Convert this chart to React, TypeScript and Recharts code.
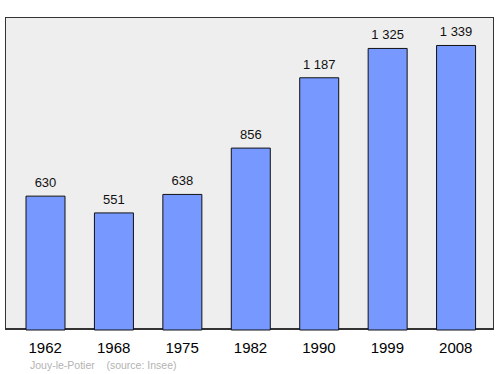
import React from "react";
import { BarChart, Bar, XAxis, YAxis, LabelList } from "recharts";

const years = ["1962", "1968", "1975", "1982", "1990", "1999", "2008"];
const population = [630, 551, 638, 856, 1187, 1325, 1339];
const caption = "Jouy-le-Potier    (source: Insee)";

const data = years.map((y, i) => ({ year: y, pop: population[i] }));

const fmt = (v: any) => String(v).replace(/\B(?=(\d{3})+(?!\d))/g, "\u00a0");

const FONT = "'Liberation Sans', Arial, sans-serif";

export default function App() {
  return (
    <div style={{ position: "absolute", left: 0, top: 0, width: 500, height: 374, background: "#fff" }}>
      <div
        style={{
          position: "absolute",
          left: 5,
          top: 17,
          width: 489,
          height: 313,
          boxSizing: "border-box",
          background: "#eeeeee",
          border: "1px solid #333",
          borderBottomWidth: 2,
        }}
      />
      <div style={{ position: "absolute", left: 0, top: 0 }}>
        <BarChart
          width={500}
          height={374}
          data={data}
          margin={{ top: 17, right: 6, bottom: 14, left: 5 }}
          barSize={39}
        >
          <XAxis
            dataKey="year"
            axisLine={false}
            tickLine={false}
            height={30}
            padding={{ left: 6, right: 4 }}
            tick={{ fill: "#000", fontSize: 15, fontFamily: FONT }}
            tickMargin={6}
          />
          <YAxis hide domain={[0, 1473]} />
          <Bar dataKey="pop" fill="#7799ff" stroke="#111" strokeWidth={1} isAnimationActive={false}>
            <LabelList
              dataKey="pop"
              position="top"
              offset={9}
              formatter={fmt}
              style={{ fill: "#111", fontSize: 13, fontFamily: FONT }}
            />
          </Bar>
        </BarChart>
      </div>
      <div
        style={{
          position: "absolute",
          left: 30,
          top: 359,
          fontSize: 10.5,
          color: "#b3b3b3",
          fontFamily: FONT,
          whiteSpace: "pre",
        }}
      >
        {caption}
      </div>
    </div>
  );
}
